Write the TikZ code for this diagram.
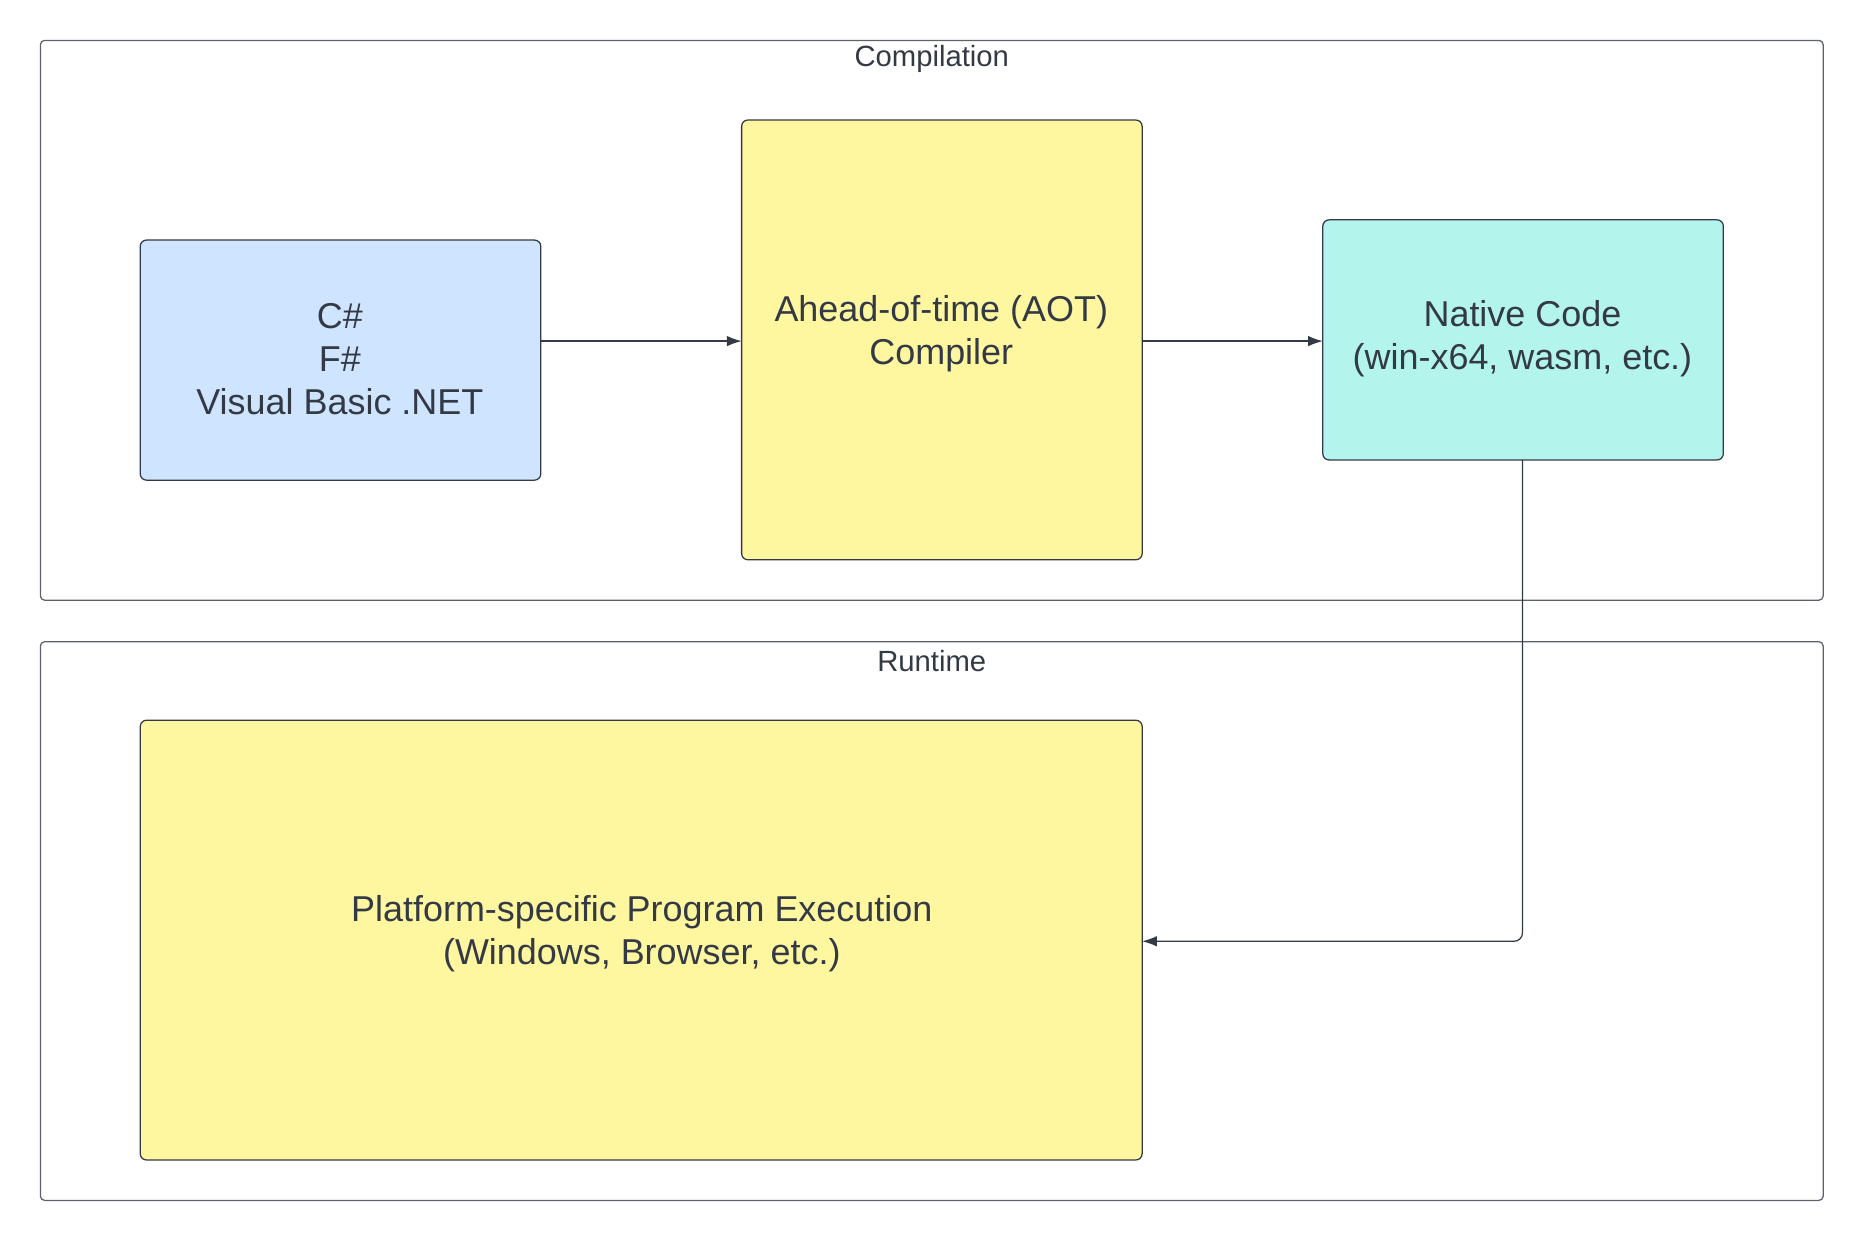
\documentclass[tikz,border=0pt]{standalone}
\usepackage{fontspec}
\setmainfont{Liberation Sans}
\definecolor{tx}{HTML}{333A45}
\definecolor{bl}{HTML}{CFE4FF}
\definecolor{yl}{HTML}{FFF6A0}
\definecolor{tl}{HTML}{B3F5EC}
\begin{document}
\begin{tikzpicture}[x=0.01cm,y=-0.01cm,
  frame/.style={draw=tx!80,line width=0.3pt,rounded corners=1pt},
  box/.style={draw=tx,line width=0.3pt,rounded corners=1.5pt},
  lbl/.style={text=tx,font=\fontsize{8.6}{10.3}\selectfont,align=center},
  ttl/.style={text=tx,font=\fontsize{7}{8.4}\selectfont},
  arr/.style={draw=tx,line width=0.3pt,-{Latex[length=3.5pt,width=2.5pt]}}]
\useasboundingbox (0,0) rectangle (1565,1043);
\usetikzlibrary{arrows.meta}
\draw[frame] (34,34) rectangle (1534,505);
\node[ttl] (t1) at (784,50) {Compilation};
\draw[frame] (34,540) rectangle (1534,1010);
\node[ttl] (t2) at (784,556) {Runtime};
\draw[box,fill=bl] (118,202) rectangle (455,404);
\draw[box,fill=yl] (624,101) rectangle (961,471);
\draw[box,fill=tl] (1113,185) rectangle (1450,387);
\draw[box,fill=yl] (118,606) rectangle (961,976);
\coordinate (csR) at (455,287);
\coordinate (aotL) at (624,287);
\coordinate (aotR) at (961,287);
\coordinate (natL) at (1113,287);
\coordinate (natB) at (1281,387);
\coordinate (plR) at (961,792);
\node[lbl] (cs) at (286,302) {C\#\\F\#\\Visual Basic .NET};
\node[lbl] (aot) at (792,281) {Ahead-of-time (AOT)\\Compiler};
\node[lbl] (nat) at (1281,285) {Native Code\\(win-x64, wasm, etc.)};
\node[lbl] (pl) at (540,786) {Platform-specific Program Execution\\(Windows, Browser, etc.)};
\draw[arr] (csR) -- (aotL);
\draw[arr] (aotR) -- (natL);
\draw[arr,rounded corners=2pt] (natB) |- (plR);
\end{tikzpicture}
\end{document}
